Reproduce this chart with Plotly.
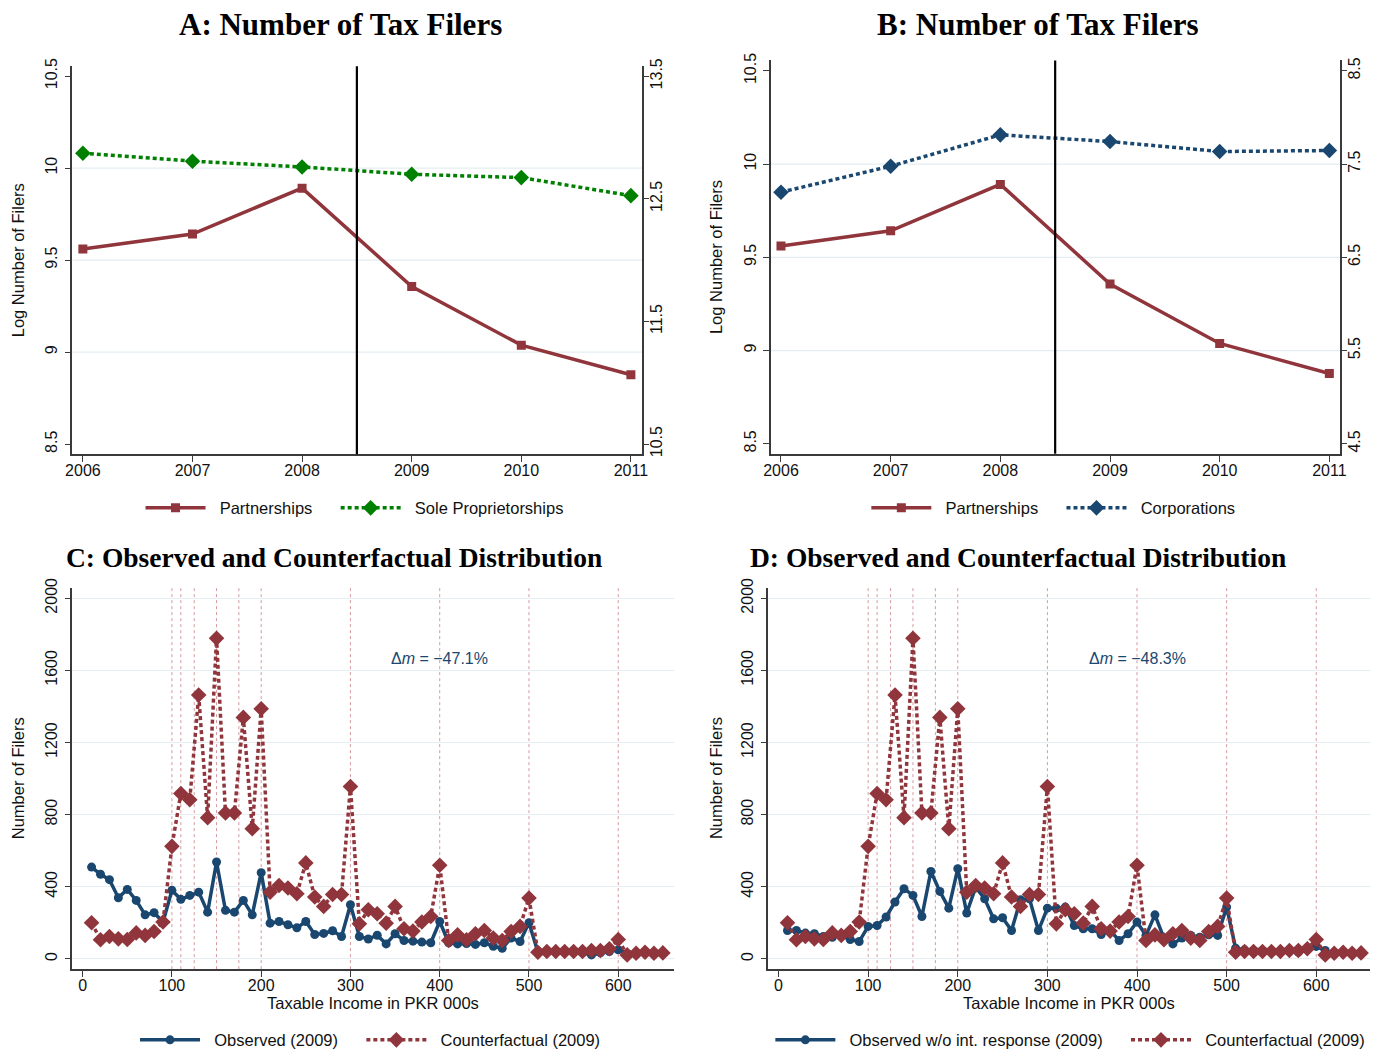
import plotly.graph_objects as go

# ---------------- data ----------------
years = [2006, 2007, 2008, 2009, 2010, 2011]
partnerships = [9.561, 9.642, 9.891, 9.357, 9.038, 8.877]
sole_proprietorships = [12.872, 12.807, 12.760, 12.700, 12.673, 12.526]
corporations = [7.199, 7.478, 7.814, 7.742, 7.635, 7.646]
reform_year = 2008.5

income_bins = [10, 20, 30, 40, 50, 60, 70, 80, 90, 100, 110, 120, 130, 140, 150,
               160, 170, 180, 190, 200, 210, 220, 230, 240, 250, 260, 270, 280, 290,
               300, 310, 320, 330, 340, 350, 360, 370, 380, 390, 400, 410, 420, 430,
               440, 450, 460, 470, 480, 490, 500, 510, 520, 530, 540, 550, 560, 570,
               580, 590, 600, 610, 620, 630, 640, 650]
counterfactual = [200, 106, 124, 111, 107, 144, 130, 152, 204, 624, 917, 882, 1463, 783,
                  1778, 809, 809, 1339, 722, 1387, 370, 407, 393, 361, 532, 343, 291, 357,
                  357, 956, 194, 272, 250, 198, 291, 167, 154, 204, 235, 519, 102, 133,
                  106, 139, 157, 115, 102, 152, 180, 337, 37, 41, 41, 41, 41, 41, 46, 46,
                  56, 107, 22, 31, 37, 31, 33]
observed_bins = [10, 20, 30, 40, 50, 60, 70, 80, 90, 100, 110, 120, 130, 140, 150,
                 160, 170, 180, 190, 200, 210, 220, 230, 240, 250, 260, 270, 280, 290,
                 300, 310, 320, 330, 340, 350, 360, 370, 380, 390, 400, 410, 420, 430,
                 440, 450, 460, 470, 480, 490, 500, 510, 520, 530, 540, 550, 560, 570,
                 580, 590, 600, 610]
observed = [509, 469, 439, 339, 385, 324, 244, 256, 204, 380, 330, 352, 370, 259, 537,
            269, 259, 324, 244, 478, 198, 207, 189, 172, 207, 135, 141, 156, 124, 300,
            124, 110, 131, 83, 139, 102, 98, 93, 89, 207, 89, 83, 85, 80, 89, 70, 59,
            115, 96, 200, 37, 37, 41, 37, 37, 33, 22, 33, 41, 50, 30]
observed_no_int = [157, 157, 143, 139, 124, 120, 130, 107, 96, 180, 185, 232, 315, 389,
                   352, 235, 485, 374, 281, 500, 254, 398, 333, 222, 228, 157, 328, 333,
                   157, 281, 280, 287, 185, 167, 167, 135, 157, 102, 139, 204, 130, 244,
                   115, 83, 115, 130, 120, 133, 130, 287, 59, 50, 46, 46, 41, 37, 46, 37,
                   56, 69, 46]
bunching_points = [100, 110, 125, 150, 175, 200, 300, 400, 500, 600]
delta_m_c = "\u221247.1%"
delta_m_d = "\u221248.3%"

# ---------------- styling ----------------
BODY = 8            # browser page margin
SX, SY = 0.988, 0.983   # observed photo scale
W, H = 1386, 1058
MAROON = "#90353b"
NAVY = "#1a476f"
GREEN = "#008000"
GRID = "#e4edf0"
AXIS = "#3a3a3a"
SANS = "Liberation Sans, Arial, sans-serif"
SERIF = "Liberation Serif, Times New Roman, serif"
DOT = "4px,3px"
NB = "\u00a0"


def clamp(v):
    return min(1.0, max(0.0, v))


def px(x):
    return clamp((x / SX - BODY) / W)


def py(y):
    return clamp(1 - (y / SY - BODY) / H)


def dx(a, b):
    return [px(a), px(b)]


def dy(top, bottom):
    return [py(bottom), py(top)]


def first(name):
    return NB * 2 + name + NB * 4


def second(name):
    return NB * 2 + name


fig = go.Figure()

# Panel A
fig.add_trace(go.Scatter(x=years, y=partnerships, mode="lines+markers",
                         name=first("Partnerships"),
                         line=dict(color=MAROON, width=3.5),
                         marker=dict(symbol="square", size=9, color=MAROON),
                         xaxis="x", yaxis="y", legend="legend"))
fig.add_trace(go.Scatter(x=years, y=sole_proprietorships, mode="lines+markers",
                         name=second("Sole Proprietorships"),
                         line=dict(color=GREEN, width=3.5, dash=DOT),
                         marker=dict(symbol="diamond", size=12, color=GREEN),
                         xaxis="x", yaxis="y2", legend="legend"))
# Panel B
fig.add_trace(go.Scatter(x=years, y=partnerships, mode="lines+markers",
                         name=first("Partnerships"),
                         line=dict(color=MAROON, width=3.5),
                         marker=dict(symbol="square", size=9, color=MAROON),
                         xaxis="x2", yaxis="y3", legend="legend2"))
fig.add_trace(go.Scatter(x=years, y=corporations, mode="lines+markers",
                         name=second("Corporations"),
                         line=dict(color=NAVY, width=3.5, dash=DOT),
                         marker=dict(symbol="diamond", size=12, color=NAVY),
                         xaxis="x2", yaxis="y4", legend="legend2"))
# Panel C
fig.add_trace(go.Scatter(x=observed_bins, y=observed, mode="lines+markers",
                         name=first("Observed (2009)"),
                         line=dict(color=NAVY, width=3.5),
                         marker=dict(symbol="circle", size=9, color=NAVY),
                         xaxis="x3", yaxis="y5", legend="legend3"))
fig.add_trace(go.Scatter(x=income_bins, y=counterfactual, mode="lines+markers",
                         name=second("Counterfactual (2009)"),
                         line=dict(color=MAROON, width=3.5, dash=DOT),
                         marker=dict(symbol="diamond", size=12, color=MAROON),
                         xaxis="x3", yaxis="y5", legend="legend3"))
# Panel D
fig.add_trace(go.Scatter(x=observed_bins, y=observed_no_int, mode="lines+markers",
                         name=first("Observed w/o int. response (2009)"),
                         line=dict(color=NAVY, width=3.5),
                         marker=dict(symbol="circle", size=9, color=NAVY),
                         xaxis="x4", yaxis="y6", legend="legend4"))
fig.add_trace(go.Scatter(x=income_bins, y=counterfactual, mode="lines+markers",
                         name=second("Counterfactual (2009)"),
                         line=dict(color=MAROON, width=3.5, dash=DOT),
                         marker=dict(symbol="diamond", size=12, color=MAROON),
                         xaxis="x4", yaxis="y6", legend="legend4"))

tickfont = dict(family=SANS, size=16, color="#111")
common_axis = dict(showline=True, linecolor=AXIS, linewidth=1.5, ticks="outside",
                   ticklen=6, tickcolor=AXIS, tickwidth=1.3, tickfont=tickfont,
                   zeroline=False, fixedrange=True)
x_common = dict(common_axis, showgrid=False, ticklabelstandoff=-5)

xa_years = dict(x_common, tickvals=years)
ya_left = dict(common_axis, tickangle=-90, showgrid=False, ticklabelstandoff=1)
ya_right = dict(common_axis, tickangle=-90, showgrid=False, ticklabelstandoff=-6,
                ticklen=5)

fig.update_layout(
    width=W, height=H, margin=dict(l=0, r=0, t=0, b=0),
    paper_bgcolor="white", plot_bgcolor="white",
    font=dict(family=SANS, color="#111"),
    showlegend=True,
    xaxis=dict(xa_years, domain=dx(72.3, 641), range=[2005.905, 2011.1], anchor="y"),
    yaxis=dict(ya_left, domain=dy(64, 452), range=[8.446, 10.554],
               tickvals=[8.5, 9, 9.5, 10, 10.5], anchor="x"),
    yaxis2=dict(ya_right, overlaying="y", side="right", anchor="x",
                range=[10.418, 13.582], tickvals=[10.5, 11.5, 12.5, 13.5]),
    xaxis2=dict(xa_years, domain=dx(770, 1338.3), range=[2005.909, 2011.097], anchor="y3"),
    yaxis3=dict(ya_left, domain=dy(58.3, 451.7), range=[8.446, 10.556],
                tickvals=[8.5, 9, 9.5, 10, 10.5], anchor="x2"),
    yaxis4=dict(ya_right, overlaying="y3", side="right", anchor="x2",
                range=[4.393, 8.612], tickvals=[4.5, 5.5, 6.5, 7.5, 8.5]),
    xaxis3=dict(x_common, domain=dx(72.3, 672.7), range=[-11.4, 662],
                tickvals=[0, 100, 200, 300, 400, 500, 600], anchor="y5"),
    yaxis5=dict(common_axis, domain=dy(586, 967), range=[-57, 2056], tickangle=-90,
                ticklabelstandoff=1,
                tickvals=[0, 400, 800, 1200, 1600, 2000], showgrid=True, gridcolor=GRID,
                gridwidth=1.3, anchor="x3"),
    xaxis4=dict(x_common, domain=dx(767.3, 1368.5), range=[-11.4, 660.2],
                tickvals=[0, 100, 200, 300, 400, 500, 600], anchor="y6"),
    yaxis6=dict(common_axis, domain=dy(586, 967), range=[-57, 2056], tickangle=-90,
                ticklabelstandoff=1,
                tickvals=[0, 400, 800, 1200, 1600, 2000], showgrid=True, gridcolor=GRID,
                gridwidth=1.3, anchor="x4"),
)

legend_common = dict(orientation="h", xanchor="center", yanchor="middle",
                     font=dict(family=SANS, size=16.5, color="#111"),
                     bgcolor="rgba(0,0,0,0)", itemwidth=60, itemclick=False,
                     itemdoubleclick=False)
fig.update_layout(
    legend=dict(legend_common, x=px(354), y=py(506)),
    legend2=dict(legend_common, x=px(1052), y=py(506)),
    legend3=dict(legend_common, x=px(370), y=py(1038)),
    legend4=dict(legend_common, x=px(1069), y=py(1038)),
)

shapes = []
# horizontal gridlines for panels A and B (inner ticks only)
for yref, xref in (("y", "x"), ("y3", "x2")):
    for v in [9, 9.5, 10]:
        shapes.append(dict(type="line", xref=f"{xref} domain", x0=0, x1=1, yref=yref,
                           y0=v, y1=v, line=dict(color=GRID, width=1.3), layer="below"))
# reform line
for xref, yref in (("x", "y"), ("x2", "y3")):
    shapes.append(dict(type="line", xref=xref, x0=reform_year, x1=reform_year,
                       yref=f"{yref} domain", y0=0, y1=1,
                       line=dict(color="black", width=2.2), layer="above"))
# bunching thresholds
for xref, yref in (("x3", "y5"), ("x4", "y6")):
    for b in bunching_points:
        shapes.append(dict(type="line", xref=xref, x0=b, x1=b, yref=f"{yref} domain",
                           y0=0, y1=1, line=dict(color="rgba(200,120,128,0.75)", width=1,
                                                 dash="dot"), layer="below"))
fig.update_layout(shapes=shapes)

ann = []
titles = [("<b>A: Number of Tax Filers</b>", 340, 22, 31),
          ("<b>B: Number of Tax Filers</b>", 1037, 22, 31),
          ("<b>C: Observed and Counterfactual Distribution</b>", 334, 555, 27.5),
          ("<b>D: Observed and Counterfactual Distribution</b>", 1017, 555, 27.5)]
for text, cx, cy, size in titles:
    ann.append(dict(text=text, xref="paper", yref="paper", x=px(cx), y=py(cy),
                    xanchor="center", yanchor="middle", showarrow=False,
                    font=dict(family=SERIF, size=size, color="black")))
ytitles = [("Log Number of Filers", 18, 258), ("Log Number of Filers", 715, 255),
           ("Number of Filers", 18, 776), ("Number of Filers", 715, 776)]
for text, cx, cy in ytitles:
    ann.append(dict(text=text, xref="paper", yref="paper", x=px(cx), y=py(cy),
                    xanchor="center", yanchor="middle", showarrow=False, textangle=-90,
                    font=dict(family=SANS, size=16.5, color="#111")))
for cx in (372, 1068):
    ann.append(dict(text="Taxable Income in PKR 000s", xref="paper", yref="paper",
                    x=px(cx), y=py(1001), xanchor="center", yanchor="middle",
                    showarrow=False, font=dict(family=SANS, size=16.5, color="#111")))
for xref, yref, dm in (("x3", "y5", delta_m_c), ("x4", "y6", delta_m_d)):
    ann.append(dict(text="\u0394<i>m</i> = " + dm, xref=xref, yref=yref, x=400, y=1667,
                    xanchor="center", yanchor="middle", showarrow=False,
                    font=dict(family=SANS, size=16, color=NAVY)))
fig.update_layout(annotations=ann)

fig.write_html("out.html")
